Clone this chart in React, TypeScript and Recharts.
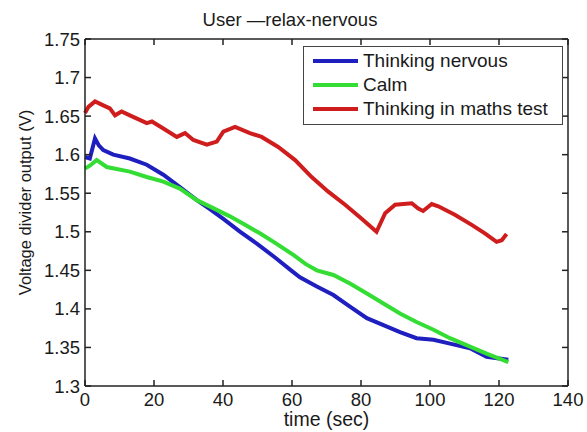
import { LineChart, Line, XAxis, YAxis, Legend } from 'recharts';

const xTicks = [0, 20, 40, 60, 80, 100, 120, 140];
const yTicks = [1.3, 1.35, 1.4, 1.45, 1.5, 1.55, 1.6, 1.65, 1.7, 1.75];

const seriesNames = ['Thinking nervous', 'Calm', 'Thinking in maths test'];

const nervousTime = [0, 1.4, 2.9, 4, 5.3, 8.2, 13, 17.9, 22.7, 27.5, 32.4, 36, 40, 45, 50, 55, 60, 62.3, 67.2, 72, 76.8, 81.7, 86.5, 91.3, 96.1, 101, 105.8, 111.6, 116.4, 122.7];
const nervousVolt = [1.597, 1.595, 1.621, 1.612, 1.606, 1.6, 1.595, 1.587, 1.574, 1.558, 1.541, 1.53, 1.517, 1.5, 1.484, 1.467, 1.449, 1.441, 1.429, 1.418, 1.403, 1.388, 1.379, 1.37, 1.362, 1.36, 1.355, 1.349, 1.338, 1.334];

const calmTime = [0, 1.5, 3.4, 6.3, 13, 17.9, 22.7, 27.5, 32.4, 37, 42, 46, 50.7, 55, 60.4, 64, 67.2, 72, 76.8, 81.7, 86.5, 91.3, 96.1, 101, 105.8, 111.6, 116.4, 122.7];
const calmVolt = [1.582, 1.586, 1.593, 1.584, 1.578, 1.571, 1.565, 1.556, 1.541, 1.531, 1.52, 1.51, 1.498, 1.486, 1.47, 1.458, 1.45, 1.444, 1.433, 1.42, 1.407, 1.394, 1.383, 1.373, 1.362, 1.351, 1.342, 1.331];

const mathsTime = [0, 1, 2.9, 5.3, 7.2, 8.7, 10.6, 13, 17.9, 19.4, 22.7, 26.6, 29, 31.4, 35.3, 38.2, 40.1, 43.5, 47.8, 51.2, 56, 60.9, 65.7, 70.5, 75.4, 80.2, 84.5, 87, 89.9, 94.7, 96.6, 98, 100.5, 102.4, 107.2, 112.1, 115.9, 119.3, 120.8, 122.2];
const mathsVolt = [1.654, 1.662, 1.669, 1.664, 1.66, 1.651, 1.656, 1.651, 1.641, 1.643, 1.634, 1.623, 1.628, 1.619, 1.613, 1.617, 1.63, 1.636, 1.628, 1.623, 1.61, 1.593, 1.571, 1.552, 1.535, 1.517, 1.5, 1.524, 1.535, 1.537, 1.53, 1.527, 1.536, 1.533, 1.522, 1.509, 1.498, 1.487, 1.489, 1.497];

const toPoints = (ts: number[], vs: number[]) => ts.map((t, i) => ({ t, v: vs[i] }));

const nervousData = toPoints(nervousTime, nervousVolt);
const calmData = toPoints(calmTime, calmVolt);
const mathsData = toPoints(mathsTime, mathsVolt);

const FONT = '"Liberation Sans", Arial, sans-serif';
const INK = '#1a1a1a';
const AXIS = '#222';
const TICK_LEN = 6;

const BottomTick = ({ x, y, payload }: any) => (
  <g>
    <line x1={x} y1={y} x2={x} y2={y - TICK_LEN} stroke={AXIS} strokeWidth={1.5} />
    <text x={x} y={y + 20} textAnchor="middle" fontSize={18.5} fill={INK} fontFamily={FONT}>
      {payload.value}
    </text>
  </g>
);

const TopTick = ({ x, y }: any) => (
  <line x1={x} y1={y} x2={x} y2={y + TICK_LEN} stroke={AXIS} strokeWidth={1.5} />
);

const LeftTick = ({ x, y, payload }: any) => (
  <g>
    <line x1={x} y1={y} x2={x + TICK_LEN} y2={y} stroke={AXIS} strokeWidth={1.5} />
    <text x={x - 5} y={y + 6.5} textAnchor="end" fontSize={18.5} fill={INK} fontFamily={FONT}>
      {String(payload.value)}
    </text>
  </g>
);

const RightTick = ({ x, y }: any) => (
  <line x1={x} y1={y} x2={x - TICK_LEN} y2={y} stroke={AXIS} strokeWidth={1.5} />
);

const LegendBox = ({ payload }: any) => {
  const items = [...(payload || [])].sort(
    (a: any, b: any) => seriesNames.indexOf(a.value) - seriesNames.indexOf(b.value)
  );
  return (
    <div
      style={{
        border: '1px solid #444',
        background: '#fff',
        width: 258,
        height: 75,
        boxSizing: 'content-box',
        fontFamily: FONT,
        paddingTop: 2,
      }}
    >
      {items.map((item: any) => (
        <div key={item.value} style={{ display: 'flex', alignItems: 'center', height: 24 }}>
          <div style={{ width: 45, height: 4, background: item.color, marginLeft: 9, marginRight: 5 }} />
          <span style={{ fontSize: 19, color: INK, lineHeight: '24px' }}>{item.value}</span>
        </div>
      ))}
    </div>
  );
};

export default function App() {
  return (
    <div style={{ position: 'absolute', left: 0, top: 0, width: 587, height: 432, background: '#fff' }}>
      <LineChart width={587} height={432} margin={{ top: 38, right: 18, bottom: 0, left: 0 }}>
        <XAxis
          xAxisId="bottom"
          dataKey="t"
          type="number"
          domain={[0, 140]}
          ticks={xTicks}
          height={46}
          tickSize={0}
          tickMargin={0}
          tickLine={false}
          axisLine={{ stroke: AXIS, strokeWidth: 1.5 }}
          tick={<BottomTick />}
          interval={0}
          label={(props: any) => {
            const vb = props.viewBox;
            return (
              <text x={vb.x + vb.width / 2} y={vb.y + 40} textAnchor="middle" fontSize={19.5} fill={INK} fontFamily={FONT}>
                time (sec)
              </text>
            );
          }}
        />
        <XAxis
          xAxisId="top"
          dataKey="t"
          type="number"
          orientation="top"
          domain={[0, 140]}
          ticks={xTicks}
          height={1}
          tickSize={0}
          tickMargin={0}
          tickLine={false}
          axisLine={{ stroke: AXIS, strokeWidth: 1.5 }}
          tick={<TopTick />}
          interval={0}
          label={(props: any) => {
            const vb = props.viewBox;
            return (
              <text x={290} y={vb.y - 12} textAnchor="middle" fontSize={18.5} fill={INK} fontFamily={FONT}>
                User —relax-nervous
              </text>
            );
          }}
        />
        <YAxis
          yAxisId="left"
          type="number"
          domain={[1.3, 1.75]}
          ticks={yTicks}
          width={85}
          tickSize={0}
          tickMargin={0}
          tickLine={false}
          axisLine={{ stroke: AXIS, strokeWidth: 1.5 }}
          tick={<LeftTick />}
          interval={0}
          allowDataOverflow
          label={(props: any) => {
            const vb = props.viewBox;
            const cx = 31;
            const cy = vb.y + vb.height / 2 - 10;
            return (
              <text
                x={cx}
                y={cy}
                transform={`rotate(-90 ${cx} ${cy})`}
                textAnchor="middle"
                fontSize={16.5}
                fill={INK}
                fontFamily={FONT}
              >
                Voltage divider output (V)
              </text>
            );
          }}
        />
        <YAxis
          yAxisId="right"
          type="number"
          orientation="right"
          domain={[1.3, 1.75]}
          ticks={yTicks}
          width={1}
          tickSize={0}
          tickMargin={0}
          tickLine={false}
          axisLine={{ stroke: AXIS, strokeWidth: 1.5 }}
          tick={<RightTick />}
          interval={0}
          allowDataOverflow
        />
        <Legend
          layout="horizontal"
          verticalAlign="middle"
          align="center"
          content={<LegendBox />}
          wrapperStyle={{ position: 'absolute', left: 303, top: 46, width: 260, height: 77 }}
        />
        <Line
          data={nervousData}
          xAxisId="bottom"
          yAxisId="left"
          dataKey="v"
          name={seriesNames[0]}
          type="linear"
          stroke="#1f1fbf"
          strokeWidth={4}
          dot={false}
          isAnimationActive={false}
        />
        <Line
          data={calmData}
          xAxisId="bottom"
          yAxisId="left"
          dataKey="v"
          name={seriesNames[1]}
          type="linear"
          stroke="#33dd33"
          strokeWidth={4}
          dot={false}
          isAnimationActive={false}
        />
        <Line
          data={mathsData}
          xAxisId="top"
          yAxisId="right"
          dataKey="v"
          name={seriesNames[2]}
          type="linear"
          stroke="#cf1d1d"
          strokeWidth={4}
          dot={false}
          isAnimationActive={false}
        />
      </LineChart>
    </div>
  );
}
